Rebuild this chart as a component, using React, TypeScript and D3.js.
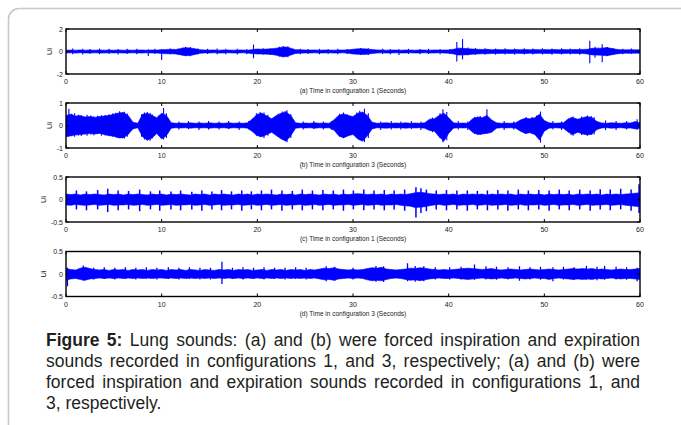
import React, { useLayoutEffect, useRef, useState } from "react";
import * as d3 from "d3";

// Time axis shared by all four recordings (seconds)
const xTicks = [0, 10, 20, 30, 40, 50, 60];

// Envelope of each recording, sampled every 0.5 s (upper / lower excursion)
const aHi = [
  0.12, 0.13, 0.12, 0.14, 0.12, 0.13, 0.12, 0.14, 0.12, 0.13, 0.12, 0.14, 0.12, 0.13, 0.12, 0.14, 0.13, 0.12, 0.14, 0.13,
  0.16, 0.18, 0.2, 0.18, 0.26, 0.34, 0.32, 0.24, 0.16, 0.14, 0.13, 0.14, 0.12, 0.14, 0.13, 0.12, 0.14, 0.13, 0.12, 0.18,
  0.22, 0.2, 0.22, 0.24, 0.3, 0.38, 0.4, 0.3, 0.16, 0.15, 0.14, 0.13, 0.14, 0.12, 0.14, 0.13, 0.12, 0.14, 0.13, 0.15,
  0.2, 0.24, 0.25, 0.22, 0.18, 0.14, 0.13, 0.12, 0.14, 0.13, 0.12, 0.14, 0.13, 0.12, 0.14, 0.13, 0.12, 0.14, 0.13, 0.14,
  0.14, 0.2, 0.3, 0.28, 0.25, 0.22, 0.2, 0.18, 0.2, 0.16, 0.18, 0.16, 0.17, 0.15, 0.17, 0.16, 0.18, 0.16, 0.17, 0.16,
  0.17, 0.16, 0.18, 0.16, 0.17, 0.16, 0.18, 0.17, 0.18, 0.2, 0.28, 0.3, 0.3, 0.35, 0.28, 0.2, 0.16, 0.15, 0.16, 0.15, 0.15,
];
const aLo = [
  -0.13, -0.12, -0.14, -0.12, -0.13, -0.14, -0.12, -0.13, -0.14, -0.12, -0.13, -0.12, -0.14, -0.13, -0.12, -0.13, -0.14, -0.12, -0.13, -0.14,
  -0.18, -0.2, -0.2, -0.22, -0.3, -0.38, -0.35, -0.26, -0.16, -0.14, -0.13, -0.12, -0.14, -0.13, -0.12, -0.14, -0.13, -0.12, -0.14, -0.2,
  -0.22, -0.22, -0.24, -0.26, -0.34, -0.45, -0.46, -0.32, -0.17, -0.15, -0.13, -0.14, -0.12, -0.14, -0.13, -0.12, -0.14, -0.13, -0.12, -0.16,
  -0.22, -0.25, -0.26, -0.24, -0.18, -0.14, -0.12, -0.14, -0.13, -0.12, -0.14, -0.13, -0.12, -0.14, -0.13, -0.12, -0.14, -0.13, -0.12, -0.14,
  -0.15, -0.22, -0.32, -0.3, -0.28, -0.24, -0.22, -0.2, -0.2, -0.18, -0.18, -0.17, -0.16, -0.18, -0.16, -0.17, -0.18, -0.16, -0.17, -0.16,
  -0.17, -0.18, -0.16, -0.17, -0.18, -0.16, -0.17, -0.18, -0.18, -0.22, -0.3, -0.32, -0.34, -0.38, -0.3, -0.22, -0.17, -0.15, -0.16, -0.15, -0.16,
];
// Individual transients: [time, peak, trough]
const aSpikes = [
  [0.7, 0.26, -0.24], [1.75, 0.24, -0.26], [2.5, 0.22, -0.2], [3.5, 0.26, -0.24], [4.5, 0.25, -0.22], [5.45, 0.22, -0.26],
  [6.4, 0.25, -0.22], [7.4, 0.24, -0.25], [8.6, 0.2, -0.4], [9.3, 0.24, -0.22], [10.0, 0.2, -0.75], [10.9, 0.26, -0.24],
  [11.7, 0.24, -0.26], [12.2, 0.36, -0.34], [12.5, 0.42, -0.4], [13.0, 0.38, -0.42], [13.8, 0.26, -0.24], [14.8, 0.24, -0.22],
  [15.8, 0.26, -0.25], [16.7, 0.24, -0.24], [17.9, 0.25, -0.26], [18.9, 0.22, -0.24], [19.6, 0.62, -0.6], [20.6, 0.3, -0.28],
  [21.4, 0.28, -0.3], [22.3, 0.42, -0.44], [22.7, 0.48, -0.5], [23.2, 0.46, -0.52], [24.5, 0.25, -0.24], [25.3, 0.22, -0.22],
  [26.5, 0.24, -0.25], [27.4, 0.22, -0.22], [28.4, 0.24, -0.24], [29.4, 0.22, -0.22], [30.8, 0.32, -0.32], [31.6, 0.3, -0.3],
  [33.1, 0.24, -0.22], [33.9, 0.22, -0.24], [34.8, 0.2, -0.32], [35.8, 0.24, -0.22], [37.0, 0.22, -0.24], [37.9, 0.24, -0.22],
  [39.1, 0.22, -0.24], [40.1, 0.2, -0.22], [40.85, 0.85, -0.88], [41.45, 1.1, -0.7], [42.0, 0.36, -0.34], [42.8, 0.3, -0.28],
  [43.8, 0.28, -0.26], [44.9, 0.26, -0.28], [45.9, 0.28, -0.26], [46.9, 0.26, -0.28], [47.9, 0.28, -0.26], [48.8, 0.26, -0.27],
  [49.8, 0.28, -0.26], [50.8, 0.27, -0.28], [51.8, 0.28, -0.26], [52.7, 0.26, -0.27], [53.7, 0.3, -0.28], [54.75, 0.95, -1.05],
  [55.3, 0.42, -0.55], [56.05, 0.65, -0.95], [56.6, 0.4, -0.4], [57.2, 0.28, -0.26], [58.2, 0.24, -0.24], [59.1, 0.26, -0.22],
];

const bHi = [
  0.45, 0.5, 0.42, 0.44, 0.38, 0.4, 0.36, 0.4, 0.42, 0.45, 0.5, 0.56, 0.58, 0.45, 0.15, 0.1, 0.5, 0.55, 0.45, 0.35,
  0.55, 0.45, 0.12, 0.1, 0.11, 0.1, 0.12, 0.1, 0.11, 0.1, 0.12, 0.1, 0.11, 0.1, 0.12, 0.1, 0.11, 0.1, 0.12, 0.3,
  0.5, 0.55, 0.42, 0.3, 0.45, 0.55, 0.6, 0.45, 0.12, 0.1, 0.11, 0.1, 0.12, 0.1, 0.11, 0.1, 0.25, 0.45, 0.52, 0.45,
  0.4, 0.55, 0.6, 0.45, 0.15, 0.1, 0.11, 0.12, 0.1, 0.11, 0.1, 0.12, 0.1, 0.11, 0.1, 0.12, 0.28, 0.3, 0.45, 0.55,
  0.35, 0.12, 0.1, 0.11, 0.1, 0.3, 0.38, 0.35, 0.45, 0.25, 0.12, 0.1, 0.11, 0.1, 0.12, 0.25, 0.32, 0.3, 0.35, 0.5,
  0.22, 0.12, 0.1, 0.11, 0.12, 0.3, 0.35, 0.28, 0.35, 0.4, 0.35, 0.18, 0.11, 0.1, 0.12, 0.11, 0.1, 0.12, 0.11, 0.18, 0.12,
];
const bLo = [
  -0.5, -0.45, -0.42, -0.4, -0.38, -0.36, -0.38, -0.35, -0.4, -0.45, -0.48, -0.55, -0.55, -0.4, -0.15, -0.1, -0.5, -0.65, -0.55, -0.35,
  -0.6, -0.45, -0.12, -0.1, -0.11, -0.1, -0.12, -0.1, -0.11, -0.1, -0.12, -0.1, -0.11, -0.1, -0.12, -0.1, -0.11, -0.1, -0.12, -0.28,
  -0.45, -0.5, -0.4, -0.3, -0.45, -0.6, -0.7, -0.45, -0.12, -0.1, -0.11, -0.1, -0.12, -0.1, -0.11, -0.1, -0.2, -0.45, -0.55, -0.45,
  -0.4, -0.6, -0.7, -0.45, -0.15, -0.1, -0.11, -0.12, -0.1, -0.11, -0.1, -0.12, -0.1, -0.11, -0.1, -0.12, -0.22, -0.25, -0.5, -0.7,
  -0.35, -0.12, -0.1, -0.11, -0.1, -0.3, -0.4, -0.38, -0.35, -0.3, -0.12, -0.1, -0.11, -0.1, -0.12, -0.25, -0.35, -0.32, -0.4, -0.65,
  -0.25, -0.12, -0.1, -0.11, -0.12, -0.3, -0.4, -0.3, -0.38, -0.42, -0.38, -0.18, -0.11, -0.1, -0.12, -0.11, -0.1, -0.12, -0.11, -0.15, -0.12,
];
const bSpikes = [
  [0.3, 0.75, -0.5], [0.6, 0.52, -0.48], [0.9, 0.55, -0.5], [1.3, 0.48, -0.44], [1.6, 0.44, -0.47], [2.2, 0.48, -0.45],
  [2.6, 0.44, -0.4], [2.9, 0.41, -0.43], [3.3, 0.43, -0.38], [3.7, 0.46, -0.45], [4.1, 0.47, -0.44], [4.5, 0.5, -0.46],
  [4.9, 0.54, -0.5], [5.2, 0.57, -0.52], [5.6, 0.63, -0.56], [6.1, 0.61, -0.58], [6.4, 0.53, -0.5], [7.9, 0.5, -0.5],
  [8.2, 0.58, -0.62], [8.5, 0.6, -0.67], [8.8, 0.56, -0.68], [9.0, 0.5, -0.58], [9.7, 0.45, -0.45], [10.2, 0.78, -0.62],
  [10.5, 0.55, -0.55], [11.8, 0.18, -0.18], [12.8, 0.2, -0.16], [13.9, 0.18, -0.2], [14.9, 0.2, -0.18], [16.0, 0.18, -0.18],
  [17.0, 0.2, -0.16], [18.1, 0.18, -0.2], [19.1, 0.2, -0.18], [19.9, 0.55, -0.46], [20.3, 0.6, -0.52], [20.7, 0.58, -0.55],
  [21.1, 0.48, -0.45], [22.2, 0.52, -0.5], [22.6, 0.62, -0.6], [22.9, 0.64, -0.66], [23.1, 0.68, -0.74], [23.5, 0.5, -0.55],
  [24.8, 0.18, -0.18], [25.9, 0.2, -0.16], [26.9, 0.18, -0.18], [27.8, 0.2, -0.2], [28.6, 0.52, -0.5], [29.0, 0.58, -0.55],
  [29.4, 0.5, -0.48], [30.4, 0.58, -0.55], [30.7, 0.66, -0.62], [31.2, 0.75, -0.74], [31.6, 0.55, -0.55], [32.9, 0.18, -0.2],
  [34.0, 0.2, -0.18], [35.0, 0.18, -0.18], [36.1, 0.2, -0.16], [37.1, 0.18, -0.2], [38.3, 0.36, -0.3], [39.1, 0.55, -0.55],
  [39.4, 0.72, -0.74], [39.8, 0.6, -0.65], [41.0, 0.2, -0.18], [42.0, 0.18, -0.2], [42.7, 0.38, -0.38], [43.3, 0.42, -0.42],
  [44.0, 0.72, -0.3], [45.8, 0.2, -0.2], [46.8, 0.18, -0.18], [48.1, 0.38, -0.38], [48.7, 0.38, -0.36], [49.2, 0.45, -0.45],
  [49.6, 0.62, -0.76], [50.9, 0.2, -0.18], [51.8, 0.18, -0.2], [52.8, 0.38, -0.42], [53.0, 0.4, -0.45], [53.9, 0.4, -0.42],
  [54.5, 0.45, -0.45], [54.9, 0.42, -0.42], [55.2, 0.38, -0.4], [56.4, 0.22, -0.2], [57.5, 0.2, -0.2], [58.6, 0.2, -0.18],
  [59.7, 0.28, -0.2],
];

const cHi = [
  0.12, 0.11, 0.12, 0.1, 0.12, 0.11, 0.12, 0.11, 0.1, 0.12, 0.11, 0.12, 0.1, 0.12, 0.11, 0.12, 0.11, 0.1, 0.12, 0.11,
  0.12, 0.1, 0.12, 0.11, 0.12, 0.11, 0.1, 0.12, 0.11, 0.12, 0.1, 0.12, 0.11, 0.12, 0.11, 0.1, 0.12, 0.11, 0.12, 0.1,
  0.12, 0.11, 0.12, 0.11, 0.1, 0.12, 0.11, 0.12, 0.1, 0.12, 0.11, 0.12, 0.11, 0.1, 0.12, 0.11, 0.12, 0.1, 0.12, 0.11,
  0.12, 0.13, 0.12, 0.11, 0.12, 0.11, 0.12, 0.1, 0.12, 0.11, 0.12, 0.11, 0.13, 0.15, 0.16, 0.15, 0.13, 0.12, 0.11, 0.12,
  0.11, 0.12, 0.1, 0.12, 0.11, 0.12, 0.11, 0.12, 0.1, 0.12, 0.11, 0.12, 0.11, 0.12, 0.1, 0.12, 0.11, 0.12, 0.11, 0.12,
  0.1, 0.12, 0.11, 0.12, 0.11, 0.12, 0.1, 0.12, 0.11, 0.12, 0.11, 0.12, 0.1, 0.12, 0.11, 0.12, 0.11, 0.12, 0.13, 0.14, 0.15,
];
const cLo = [
  -0.12, -0.13, -0.11, -0.12, -0.13, -0.12, -0.11, -0.13, -0.12, -0.11, -0.13, -0.12, -0.12, -0.11, -0.13, -0.12, -0.11, -0.13, -0.12, -0.11,
  -0.13, -0.12, -0.11, -0.13, -0.12, -0.12, -0.11, -0.13, -0.12, -0.11, -0.13, -0.12, -0.11, -0.13, -0.12, -0.12, -0.11, -0.13, -0.12, -0.11,
  -0.13, -0.12, -0.11, -0.13, -0.12, -0.11, -0.13, -0.12, -0.12, -0.11, -0.13, -0.12, -0.11, -0.13, -0.12, -0.11, -0.13, -0.12, -0.12, -0.11,
  -0.13, -0.12, -0.11, -0.13, -0.12, -0.11, -0.13, -0.12, -0.12, -0.11, -0.13, -0.14, -0.15, -0.18, -0.17, -0.16, -0.14, -0.12, -0.11, -0.13,
  -0.12, -0.11, -0.13, -0.12, -0.12, -0.11, -0.13, -0.12, -0.11, -0.13, -0.12, -0.12, -0.11, -0.13, -0.12, -0.11, -0.13, -0.12, -0.12, -0.11,
  -0.13, -0.12, -0.11, -0.13, -0.12, -0.12, -0.11, -0.13, -0.12, -0.11, -0.13, -0.12, -0.12, -0.11, -0.13, -0.12, -0.11, -0.13, -0.14, -0.15, -0.16,
];
const cSpikes = [
  [1.09, 0.2, -0.22], [2.14, 0.18, -0.24], [3.31, 0.21, -0.22], [4.36, 0.24, -0.28], [5.45, 0.2, -0.24], [6.54, 0.19, -0.22],
  [7.7, 0.22, -0.26], [8.83, 0.18, -0.22], [9.8, 0.2, -0.25], [10.97, 0.18, -0.22], [11.98, 0.2, -0.24], [13.15, 0.17, -0.22],
  [14.2, 0.2, -0.25], [15.25, 0.18, -0.22], [16.26, 0.21, -0.24], [17.3, 0.18, -0.22], [18.37, 0.2, -0.25], [19.38, 0.18, -0.22],
  [20.43, 0.2, -0.24], [21.48, 0.22, -0.22], [22.57, 0.2, -0.25], [23.66, 0.19, -0.22], [24.7, 0.22, -0.24], [25.76, 0.2, -0.22],
  [26.85, 0.21, -0.24], [27.94, 0.2, -0.22], [29.0, 0.22, -0.25], [30.04, 0.2, -0.22], [31.13, 0.22, -0.24], [32.2, 0.2, -0.22],
  [33.27, 0.21, -0.24], [34.3, 0.2, -0.22], [35.4, 0.22, -0.25], [36.58, 0.27, -0.4], [37.1, 0.25, -0.3], [37.67, 0.22, -0.26],
  [38.7, 0.2, -0.22], [39.77, 0.21, -0.24], [40.86, 0.2, -0.22], [41.95, 0.2, -0.25], [43.0, 0.19, -0.22], [44.05, 0.2, -0.24],
  [45.14, 0.21, -0.22], [46.19, 0.2, -0.25], [47.28, 0.22, -0.22], [48.33, 0.2, -0.24], [49.42, 0.21, -0.22], [50.5, 0.2, -0.25],
  [51.56, 0.22, -0.22], [52.6, 0.2, -0.24], [53.7, 0.22, -0.22], [54.79, 0.2, -0.25], [55.84, 0.23, -0.22], [56.89, 0.22, -0.24],
  [57.98, 0.24, -0.22], [59.07, 0.22, -0.25], [59.9, 0.34, -0.3],
];

const dHi = [
  0.12, 0.1, 0.09, 0.13, 0.15, 0.12, 0.1, 0.09, 0.1, 0.08, 0.1, 0.09, 0.1, 0.08, 0.1, 0.09, 0.1, 0.08, 0.1, 0.09,
  0.1, 0.08, 0.1, 0.09, 0.1, 0.08, 0.1, 0.09, 0.08, 0.1, 0.09, 0.08, 0.1, 0.09, 0.1, 0.08, 0.1, 0.09, 0.1, 0.08,
  0.09, 0.1, 0.08, 0.1, 0.09, 0.1, 0.08, 0.1, 0.09, 0.1, 0.08, 0.1, 0.09, 0.11, 0.13, 0.12, 0.14, 0.11, 0.1, 0.09,
  0.1, 0.09, 0.1, 0.12, 0.14, 0.13, 0.15, 0.11, 0.1, 0.09, 0.1, 0.11, 0.13, 0.12, 0.14, 0.13, 0.11, 0.1, 0.09, 0.1,
  0.09, 0.1, 0.11, 0.12, 0.13, 0.12, 0.11, 0.1, 0.11, 0.12, 0.1, 0.09, 0.1, 0.11, 0.1, 0.09, 0.1, 0.11, 0.1, 0.09,
  0.1, 0.11, 0.1, 0.09, 0.1, 0.11, 0.12, 0.11, 0.12, 0.11, 0.12, 0.1, 0.11, 0.1, 0.09, 0.1, 0.11, 0.1, 0.1, 0.11, 0.12,
];
const dLo = [
  -0.14, -0.11, -0.1, -0.12, -0.14, -0.11, -0.1, -0.09, -0.1, -0.09, -0.1, -0.09, -0.1, -0.09, -0.1, -0.09, -0.1, -0.09, -0.1, -0.09,
  -0.09, -0.1, -0.09, -0.1, -0.09, -0.1, -0.09, -0.1, -0.09, -0.1, -0.09, -0.1, -0.09, -0.1, -0.09, -0.1, -0.09, -0.1, -0.09, -0.1,
  -0.09, -0.1, -0.09, -0.1, -0.09, -0.1, -0.09, -0.1, -0.09, -0.1, -0.09, -0.1, -0.09, -0.11, -0.13, -0.12, -0.14, -0.11, -0.1, -0.09,
  -0.1, -0.09, -0.1, -0.13, -0.15, -0.14, -0.15, -0.12, -0.1, -0.09, -0.1, -0.12, -0.14, -0.13, -0.15, -0.13, -0.11, -0.1, -0.09, -0.1,
  -0.1, -0.09, -0.1, -0.11, -0.12, -0.11, -0.1, -0.09, -0.1, -0.11, -0.1, -0.09, -0.1, -0.1, -0.09, -0.1, -0.11, -0.1, -0.09, -0.1,
  -0.1, -0.12, -0.1, -0.09, -0.1, -0.11, -0.12, -0.11, -0.12, -0.11, -0.12, -0.1, -0.11, -0.1, -0.09, -0.1, -0.11, -0.1, -0.1, -0.11, -0.12,
];
const dSpikes = [
  [0.15, 0.14, -0.27], [1.8, 0.19, -0.15], [2.9, 0.14, -0.12], [4.0, 0.15, -0.11], [5.1, 0.14, -0.12], [6.2, 0.15, -0.11],
  [7.3, 0.14, -0.12], [8.4, 0.15, -0.11], [9.5, 0.14, -0.12], [10.7, 0.15, -0.11], [11.8, 0.14, -0.12], [12.9, 0.15, -0.11],
  [14.0, 0.14, -0.12], [15.1, 0.14, -0.12], [16.3, 0.27, -0.22], [17.4, 0.14, -0.11], [18.5, 0.15, -0.12], [19.6, 0.14, -0.11],
  [20.7, 0.15, -0.12], [21.8, 0.14, -0.11], [22.9, 0.14, -0.12], [24.0, 0.15, -0.11], [25.1, 0.14, -0.12], [27.2, 0.17, -0.16],
  [28.1, 0.16, -0.15], [30.0, 0.14, -0.12], [32.4, 0.18, -0.17], [33.2, 0.17, -0.18], [35.7, 0.24, -0.16], [36.5, 0.18, -0.17],
  [37.4, 0.17, -0.16], [38.6, 0.15, -0.12], [40.1, 0.15, -0.12], [41.3, 0.16, -0.12], [42.7, 0.21, -0.13], [43.9, 0.17, -0.12],
  [45.0, 0.16, -0.13], [46.2, 0.15, -0.12], [47.4, 0.17, -0.15], [48.5, 0.15, -0.12], [49.6, 0.16, -0.13], [50.9, 0.15, -0.16],
  [52.0, 0.16, -0.12], [53.1, 0.15, -0.13], [54.4, 0.18, -0.13], [55.5, 0.16, -0.14], [56.3, 0.18, -0.13], [57.5, 0.16, -0.12],
  [58.6, 0.15, -0.13], [59.7, 0.14, -0.16],
];

// Amplitude axes
const aYTicks = [-2, 0, 2];
const bYTicks = [-1, 0, 1];
const cYTicks = [-0.5, 0, 0.5];
const dYTicks = [-0.5, 0, 0.5];

const panelTitles = [
  "(a) Time in configuration 1 (Seconds)",
  "(b) Time in configuration 3 (Seconds)",
  "(c) Time in configuration 1 (Seconds)",
  "(d) Time in configuration 3 (Seconds)",
];
const yAxisLabel = "Ui";

const captionLines = [
  { bold: "Figure 5:", text: " Lung sounds: (a) and (b) were forced inspiration and expiration", justify: true },
  { bold: "", text: "sounds recorded in configurations 1, and 3, respectively; (a) and (b) were", justify: true },
  { bold: "", text: "forced inspiration and expiration sounds recorded in configurations 1, and", justify: true },
  { bold: "", text: "3, respectively.", justify: false },
];

const W = 681;
const H = 425;
const PLOT_LEFT = 66;
const PLOT_RIGHT = 640;
const PLOT_H = 45;
const PANEL_TOPS = [29, 103, 177, 251.5];
const SIGNAL = "#0000ff";
const FONT = "'Liberation Sans', Arial, Helvetica, sans-serif";
const STEP = 0.5;

const panels = [
  { hi: aHi, lo: aLo, spikes: aSpikes, ticks: aYTicks, title: panelTitles[0], labelX: 49, spikeW: 1.1 },
  { hi: bHi, lo: bLo, spikes: bSpikes, ticks: bYTicks, title: panelTitles[1], labelX: 49, spikeW: 1.1 },
  { hi: cHi, lo: cLo, spikes: cSpikes, ticks: cYTicks, title: panelTitles[2], labelX: 43, spikeW: 1.5 },
  { hi: dHi, lo: dLo, spikes: dSpikes, ticks: dYTicks, title: panelTitles[3], labelX: 43, spikeW: 1.3 },
];

const x = d3.scaleLinear().domain([0, 60]).range([PLOT_LEFT, PLOT_RIGHT]);

function Panel({ p, top }) {
  const bottom = top + PLOT_H;
  const yMax = p.ticks[p.ticks.length - 1];
  const y = d3.scaleLinear().domain([-yMax, yMax]).range([bottom, top]);
  const env = p.hi.map((h, i) => ({ t: i * STEP, hi: h, lo: p.lo[i] }));
  const area = d3
    .area<any>()
    .x((d) => x(d.t))
    .y0((d) => y(d.lo))
    .y1((d) => y(d.hi));
  const cx = (PLOT_LEFT + PLOT_RIGHT) / 2;
  const cy = (top + bottom) / 2;
  const tk = 3;
  return (
    <g>
      <clipPath id={`clip-${top}`}>
        <rect x={PLOT_LEFT} y={top} width={PLOT_RIGHT - PLOT_LEFT} height={PLOT_H} />
      </clipPath>
      <g clipPath={`url(#clip-${top})`}>
        <path d={area(env) || ""} fill={SIGNAL} stroke={SIGNAL} strokeWidth={0.6} />
        {p.spikes.map(([t, hi, lo], i) => (
          <line key={i} x1={x(t)} x2={x(t)} y1={y(hi)} y2={y(lo)} stroke={SIGNAL} strokeWidth={p.spikeW} />
        ))}
      </g>
      {/* inner tick marks on all four sides */}
      {xTicks.map((t) => (
        <g key={t}>
          <line x1={x(t)} x2={x(t)} y1={top} y2={top + tk} stroke="#000" strokeWidth={1} />
          <line x1={x(t)} x2={x(t)} y1={bottom} y2={bottom - tk} stroke="#000" strokeWidth={1} />
        </g>
      ))}
      {p.ticks.map((v) => (
        <g key={v}>
          <line x1={PLOT_LEFT} x2={PLOT_LEFT + tk} y1={y(v)} y2={y(v)} stroke="#000" strokeWidth={1} />
          <line x1={PLOT_RIGHT} x2={PLOT_RIGHT - tk} y1={y(v)} y2={y(v)} stroke="#000" strokeWidth={1} />
        </g>
      ))}
      <rect
        x={PLOT_LEFT}
        y={top}
        width={PLOT_RIGHT - PLOT_LEFT}
        height={PLOT_H}
        fill="none"
        stroke="#000"
        strokeWidth={1.4}
      />
      {xTicks.map((t) => (
        <text key={t} x={x(t)} y={bottom + 10} fontSize={7} textAnchor="middle" fill="#222" fontFamily={FONT}>
          {t}
        </text>
      ))}
      {p.ticks.map((v) => (
        <text key={v} x={63} y={y(v) + 2.5} fontSize={7} textAnchor="end" fill="#222" fontFamily={FONT}>
          {v}
        </text>
      ))}
      <text x={cx} y={bottom + 19} fontSize={6.5} textAnchor="middle" fill="#222" fontFamily={FONT}>
        {p.title}
      </text>
      <text
        transform={`translate(${p.labelX},${cy}) rotate(-90)`}
        fontSize={7.5}
        textAnchor="middle"
        dominantBaseline="central"
        fill="#222"
        fontFamily={FONT}
      >
        {yAxisLabel}
      </text>
    </g>
  );
}

const CAP_LEFT = 46;
const CAP_RIGHT = 640;
const CAP_BASE = 345.5;
const CAP_LEAD = 21.1;
const CAP_SIZE = 17.5;

function CaptionLine({ line, y }) {
  const ref = useRef<SVGTextElement>(null);
  const [spacing, setSpacing] = useState(0);
  useLayoutEffect(() => {
    if (!line.justify || !ref.current) return;
    const natural = ref.current.getComputedTextLength();
    const gaps = (line.bold + line.text).split(" ").length - 1;
    if (gaps > 0) setSpacing((CAP_RIGHT - CAP_LEFT - natural) / gaps);
  }, []);
  return (
    <text
      ref={ref}
      x={CAP_LEFT}
      y={y}
      fontSize={CAP_SIZE}
      fill="#231f20"
      fontFamily={FONT}
      style={{ wordSpacing: `${spacing}px`, whiteSpace: "pre" }}
    >
      {line.bold ? <tspan fontWeight="bold">{line.bold}</tspan> : null}
      <tspan>{line.text}</tspan>
    </text>
  );
}

export default function App() {
  return (
    <svg
      width={W}
      height={H}
      viewBox={`0 0 ${W} ${H}`}
      style={{ position: "absolute", left: 0, top: 0, display: "block", background: "#fff" }}
    >
      <rect x={0} y={0} width={W} height={H} fill="#fff" />
      <path
        d={`M8.5,${H + 5} L8.5,19 A10.5,10.5 0 0 1 19,8.5 L${W + 5},8.5`}
        fill="none"
        stroke="#c8c8c8"
        strokeWidth={1.6}
      />
      {panels.map((p, i) => (
        <Panel key={i} p={p} top={PANEL_TOPS[i]} />
      ))}
      {captionLines.map((l, i) => (
        <CaptionLine key={i} line={l} y={CAP_BASE + i * CAP_LEAD} />
      ))}
    </svg>
  );
}
